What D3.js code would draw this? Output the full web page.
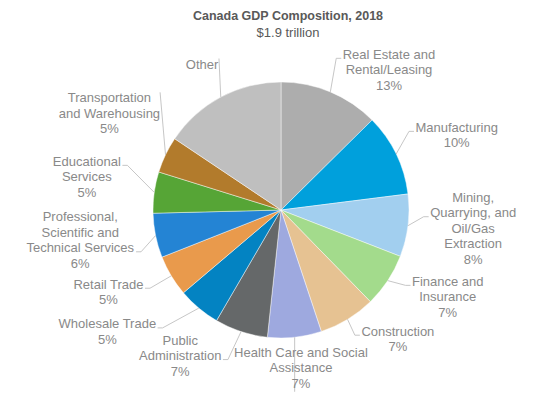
<!DOCTYPE html>
<html>
<head>
<meta charset="utf-8">
<script src="https://cdn.jsdelivr.net/npm/d3@7"></script>
<style>
  body { margin: 0; background: #fff; }
  svg text { font-family: "Liberation Sans", Arial, sans-serif; }
</style>
</head>
<body>
<svg id="chart"></svg>
<script>
// sector names, share of GDP (%) and slice colours
var categories = [
  "Real Estate and Rental/Leasing",
  "Manufacturing",
  "Mining, Quarrying, and Oil/Gas Extraction",
  "Finance and Insurance",
  "Construction",
  "Health Care and Social Assistance",
  "Public Administration",
  "Wholesale Trade",
  "Retail Trade",
  "Professional, Scientific and Technical Services",
  "Educational Services",
  "Transportation and Warehousing",
  "Other",
];
var shares = [12.6, 10.4, 7.9, 6.8, 7.2, 6.8, 6.7, 5.4, 5.2, 5.6, 5.2, 4.6, 15.6];
var colors = [
  "#adadad",
  "#00a0dc",
  "#a2cfef",
  "#a3db8c",
  "#e6c292",
  "#9ea9df",
  "#656869",
  "#0383c2",
  "#e99a4c",
  "#2484d4",
  "#56a536",
  "#b27b2c",
  "#bfbfbf",
];
// how each label wraps
var labelLines = [
  ["Real Estate and", "Rental/Leasing"],
  ["Manufacturing"],
  ["Mining,", "Quarrying, and", "Oil/Gas", "Extraction"],
  ["Finance and", "Insurance"],
  ["Construction"],
  ["Health Care and Social", "Assistance"],
  ["Public", "Administration"],
  ["Wholesale Trade"],
  ["Retail Trade"],
  ["Professional,", "Scientific and", "Technical Services"],
  ["Educational", "Services"],
  ["Transportation", "and Warehousing"],
  ["Other"],
];
var title = "Canada GDP Composition, 2018";
var subtitle = "$1.9 trillion";

var width = 540;
var height = 399;
var cx = 281, cy = 210, radius = 128;
var lineH = 15.5;

// where each label block sits: [angle in degrees from 12 o'clock, distance from centre]
var labelPlace = [
  [37.6, 177], [66.9, 191], [95.4, 193], [117.5, 188], [137.8, 174],
  [172.8, 159], [214.7, 177], [235.0, 212], [244.6, 191], [261.5, 203],
  [279.7, 197], [299.4, 197], [331.6, 166],
];

var svg = d3.select("#chart").attr("width", width).attr("height", height);
svg.append("rect").attr("width", width).attr("height", height).attr("fill", "#fff");

// titles
svg.append("text")
  .attr("x", 288).attr("y", 19.5)
  .attr("text-anchor", "middle")
  .attr("font-size", "12.5px").attr("font-weight", "bold")
  .attr("fill", "#595959")
  .text(title);
svg.append("text")
  .attr("x", 288).attr("y", 36.5)
  .attr("text-anchor", "middle")
  .attr("font-size", "13px")
  .attr("fill", "#595959")
  .text(subtitle);

var total = d3.sum(shares);
var data = categories.map(function (c, i) {
  return { name: c, value: shares[i], color: colors[i], lines: labelLines[i], place: labelPlace[i] };
});

var pie = d3.pie().sort(null).value(function (d) { return d.value; });
var arcs = pie(data);
var arc = d3.arc().innerRadius(0).outerRadius(radius);

var g = svg.append("g").attr("transform", "translate(" + cx + "," + cy + ")");

g.selectAll("path.slice")
  .data(arcs)
  .enter()
  .append("path")
  .attr("class", "slice")
  .attr("d", arc)
  .attr("fill", function (d) { return d.data.color; })
  .attr("stroke", "#fff")
  .attr("stroke-opacity", 0.6)
  .attr("stroke-width", 0.75);

function polar(angle, r) {
  return [r * Math.sin(angle), -r * Math.cos(angle)];
}

// labels
var labels = g.selectAll("g.label")
  .data(arcs)
  .enter()
  .append("g")
  .attr("class", "label");

labels.each(function (d) {
  var lines = d.data.lines.slice();
  if (d.data.name !== "Other") lines.push(Math.round(d.data.value / total * 100) + "%");
  var p = polar(d.data.place[0] * Math.PI / 180, d.data.place[1]);
  var top = p[1] - (lines.length - 1) / 2 * lineH;
  var t = d3.select(this).append("text")
    .attr("text-anchor", "middle")
    .attr("font-size", "13px")
    .attr("fill", "#898989");
  lines.forEach(function (l, i) {
    t.append("tspan")
      .attr("x", p[0])
      .attr("y", top + i * lineH)
      .attr("dy", "0.35em")
      .text(l);
  });
});

// leader lines
var leaders = g.insert("g", "g.label");
labels.each(function (d) {
  var mid = (d.startAngle + d.endAngle) / 2;
  var rim = polar(mid, radius);
  var box = this.getBBox();
  var spans = [];
  d3.select(this).selectAll("tspan").each(function () {
    var b = this.getBBox();
    spans.push(b);
  });
  var right = box.x > rim[0];
  var gap = right ? box.x - rim[0] : rim[0] - (box.x + box.width);
  var pts;
  if (gap > 10) {
    var edge = right ? d3.min(spans, function (b) { return b.x; })
                     : d3.max(spans, function (b) { return b.x + b.width; });
    var cands = spans.filter(function (b) {
      return right ? b.x <= edge + 2.5 : b.x + b.width >= edge - 2.5;
    });
    var pick = cands.sort(function (a, b) {
      return Math.abs(a.y + a.height / 2 - rim[1]) - Math.abs(b.y + b.height / 2 - rim[1]);
    })[0];
    var ly = pick.y + pick.height / 2 + 4;
    var ex = right ? pick.x - 1.5 : pick.x + pick.width + 1.5;
    pts = [rim, [right ? ex - 5 : ex + 5, ly], [ex, ly]];
  } else {
    var bx = Math.max(box.x, Math.min(box.x + box.width, rim[0]));
    var by = rim[1] > box.y ? box.y + 2 : box.y + box.height + 1;
    pts = [rim, [bx, by]];
  }
  leaders.append("path")
    .attr("d", d3.line()(pts))
    .attr("fill", "none")
    .attr("stroke", "#bfbfbf")
    .attr("stroke-width", 0.9);
});
</script>
</body>
</html>
